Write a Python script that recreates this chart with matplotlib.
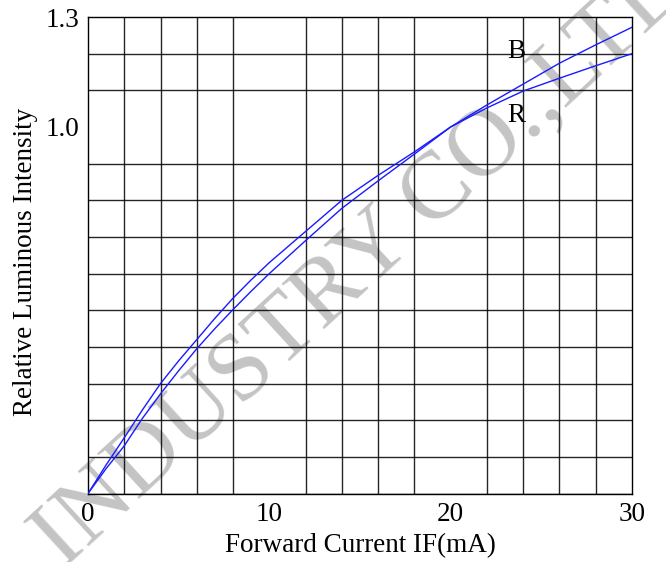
import matplotlib
matplotlib.use("Agg")
import matplotlib.pyplot as plt
import numpy as np

# Data
current_ma = [0, 1, 2, 3, 4, 5, 6, 7, 8, 9, 10, 12, 14, 16, 18, 20, 22, 24, 26, 28, 30]
blue_rel = [0, 0.078, 0.152, 0.228, 0.300, 0.362, 0.420, 0.478, 0.533, 0.583, 0.630,
            0.715, 0.800, 0.868, 0.932, 1.000, 1.060, 1.117, 1.174, 1.224, 1.272]
red_rel = [0, 0.068, 0.130, 0.205, 0.272, 0.335, 0.395, 0.450, 0.502, 0.552, 0.600,
           0.690, 0.778, 0.853, 0.926, 1.000, 1.052, 1.098, 1.133, 1.167, 1.200]
x_tick_vals = [0, 10, 20, 30]
x_tick_labels = ["0", "10", "20", "30"]
y_tick_vals = [1.0, 1.3]
y_tick_labels = ["1.0", "1.3"]
series_labels = ["B", "R"]

plt.rcParams['font.family'] = ['Liberation Serif', 'DejaVu Serif']

W, H = 666, 562
fig = plt.figure(figsize=(W / 100, H / 100), dpi=100)
left, right, top, bottom = 88, 632, 17, 493.5
ax = fig.add_axes([left / W, 1 - bottom / H, (right - left) / W, (bottom - top) / H])
ax.set_facecolor('none')
ax.set_axisbelow(False)
fig.patch.set_facecolor('white')

# watermark (behind grid, curves and labels)
ax.text(64 / W, 1 - 570 / H, "INDUSTRY\u2009CO.,LTD", transform=fig.transFigure,
        fontsize=69, color='#c4c4c4', rotation=42.6, rotation_mode='anchor',
        ha='left', va='baseline', zorder=0.5, clip_on=False)

ax.plot(current_ma, blue_rel, color='#1a1aff', lw=1.0, zorder=3)
ax.plot(current_ma, red_rel, color='#1a1aff', lw=1.0, zorder=3)

ax.set_xlim(0, 30)
ax.set_ylim(0, 1.3)
ax.set_xticks(np.arange(0, 31, 2), minor=True)
ax.set_yticks(np.arange(0, 1.31, 0.1), minor=True)
ax.grid(which='minor', color='black', lw=1.0, alpha=0.85)
ax.set_xticks(x_tick_vals)
ax.set_xticklabels(x_tick_labels)
ax.set_yticks(y_tick_vals)
ax.set_yticklabels(y_tick_labels)
ax.tick_params(which='both', length=0, labelsize=19.5, pad=6)
for s in ax.spines.values():
    s.set_color('black')
    s.set_linewidth(1.0)

ax.text(23.6, 1.205, series_labels[0], fontsize=19.5, ha='center', va='center', zorder=4)
ax.text(23.6, 1.03, series_labels[1], fontsize=19.5, ha='center', va='center', zorder=4)

fig.text(360 / W, 1 - 546 / H, "Forward Current IF(mA)", fontsize=19.5, ha='center', va='center')
fig.text(26 / W, 1 - 262 / H, "Relative Luminous Intensity", fontsize=19.5, ha='center',
         va='center', rotation=90)

fig.savefig("out.png", dpi=100)
